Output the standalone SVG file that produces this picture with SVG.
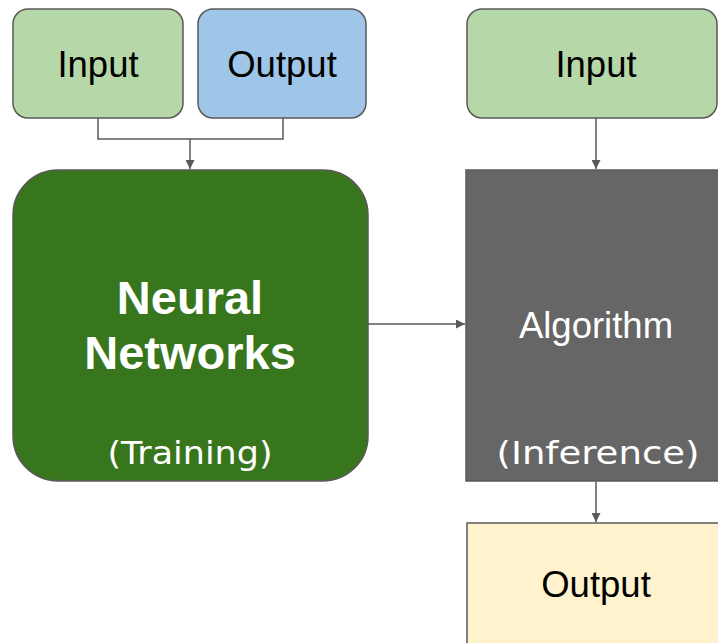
<svg xmlns="http://www.w3.org/2000/svg" width="718" height="643" viewBox="0 0 718 643">
  <defs>
    <marker id="arrow" viewBox="0 0 10 10" refX="10" refY="5" markerWidth="9" markerHeight="9" markerUnits="userSpaceOnUse" orient="auto">
      <path d="M0,0 L10,5 L0,10 z" fill="#595959"/>
    </marker>
  </defs>
  <style>
    .box { stroke: #595959; stroke-width: 1.5; }
    .label { font-family: "Liberation Sans", Arial, sans-serif; font-size: 36.5px; text-anchor: middle; }
    .title { font-family: "Liberation Sans", Arial, sans-serif; font-size: 47px; font-weight: bold; fill: #ffffff; text-anchor: middle; }
    .note { font-family: "Comic Sans MS", "DejaVu Sans", sans-serif; font-size: 32px; fill: #ffffff; text-anchor: middle; }
    .wire { fill: none; stroke: #595959; stroke-width: 1.5; }
  </style>
  <rect width="718" height="643" fill="#ffffff"/>

  <g id="connectors">
    <path class="wire" d="M98,118 V139 H283 V118"/>
    <path class="wire" d="M190,139 V169" marker-end="url(#arrow)"/>
    <path class="wire" d="M596,118 V169" marker-end="url(#arrow)"/>
    <path class="wire" d="M368,324 H465" marker-end="url(#arrow)"/>
    <path class="wire" d="M596,482 V522" marker-end="url(#arrow)"/>
  </g>

  <g id="train-input">
    <rect class="box" x="13" y="9" width="170" height="109" rx="15" fill="#b6d7a8"/>
    <text class="label" x="98" y="77" fill="#000000">Input</text>
  </g>

  <g id="train-output">
    <rect class="box" x="198" y="9" width="168" height="109" rx="15" fill="#9fc5e8"/>
    <text class="label" x="282" y="77" fill="#000000">Output</text>
  </g>

  <g id="neural-networks">
    <rect class="box" x="13" y="170" width="355" height="311" rx="45" fill="#38761d"/>
    <text class="title" x="190" y="314">Neural</text>
    <text class="title" x="190" y="369">Networks</text>
    <text class="note" x="190" y="464" textLength="165" lengthAdjust="spacingAndGlyphs">(Training)</text>
  </g>

  <g id="infer-input">
    <rect class="box" x="467" y="9" width="250" height="109" rx="15" fill="#b6d7a8"/>
    <text class="label" x="596" y="77" fill="#000000">Input</text>
  </g>

  <g id="algorithm">
    <rect class="box" x="466" y="170" width="270" height="311" fill="#666666"/>
    <text class="label" x="596" y="338" fill="#ffffff">Algorithm</text>
    <text class="note" x="598" y="464" textLength="203" lengthAdjust="spacingAndGlyphs">(Inference)</text>
  </g>

  <g id="infer-output">
    <rect class="box" x="467" y="523" width="270" height="140" fill="#fff2cc"/>
    <text class="label" x="596" y="597" fill="#000000">Output</text>
  </g>
</svg>
